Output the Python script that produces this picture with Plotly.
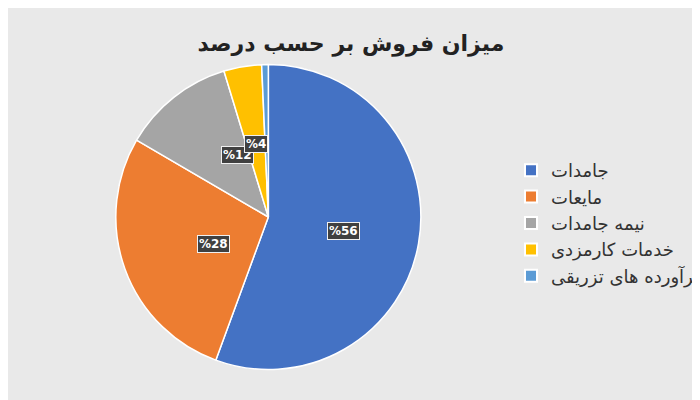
import math
import plotly.graph_objects as go

labels = ["جامدات", "مایعات", "نیمه جامدات", "خدمات کارمزدی", "فرآورده های تزریقی"]
values = [55.6, 27.8, 11.9, 4.0, 0.7]
shown = ["%56", "%28", "%12", "%4", ""]
colors = ["#4472C4", "#ED7D31", "#A5A5A5", "#FFC000", "#5B9BD5"]

W, H = 700, 400
cx, cy, R = 268, 209, 157

fig = go.Figure(go.Pie(
    labels=labels, values=values, sort=False, direction="clockwise", rotation=0,
    marker=dict(colors=colors, line=dict(color="white", width=1.5)),
    textinfo="none", hoverinfo="label+percent",
    domain=dict(x=[(cx - R) / W, (cx + R) / W], y=[(H - cy - R) / H, (H - cy + R) / H]),
))

# dark label boxes placed at each slice's middle angle
total = sum(values)
acc = 0
for v, t in zip(values, shown):
    mid = (acc + v / 2) / total * 2 * math.pi
    acc += v
    if not t:
        continue
    r = 0.5 * R if v > 8 else 0.47 * R
    fig.add_annotation(
        x=(cx + r * math.sin(mid)) / W, y=(H - cy + r * math.cos(mid)) / H,
        xref="paper", yref="paper", text="<b>" + t + "</b>", showarrow=False,
        font=dict(color="white", size=12, family="DejaVu Sans"),
        bgcolor="#404040", bordercolor="#f0f0f0", borderwidth=1, borderpad=1,
    )

fig.update_layout(
    width=W, height=H,
    margin=dict(l=0, r=0, t=0, b=0),
    paper_bgcolor="#e9e9e9",
    title=dict(text="<b>میزان فروش بر حسب درصد</b>", x=0.49, y=0.93, xanchor="center",
               font=dict(size=22, color="#222", family="DejaVu Sans")),
    legend=dict(x=0.74, y=0.64, xanchor="left", yanchor="top",
                font=dict(size=18, color="#333", family="DejaVu Sans"),
                itemsizing="constant", bgcolor="rgba(0,0,0,0)"),
    showlegend=True,
)
fig.update_traces(legendgrouptitle_font_size=13)

fig.write_html("out.html")
